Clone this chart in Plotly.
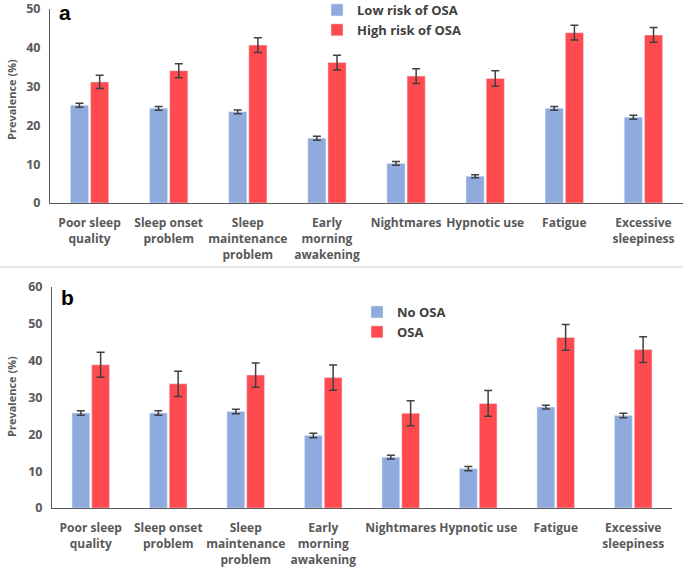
import plotly.graph_objects as go

categories = ["Poor sleep<br>quality", "Sleep onset<br>problem", "Sleep<br>maintenance<br>problem",
              "Early<br>morning<br>awakening", "Nightmares", "Hypnotic use", "Fatigue",
              "Excessive<br>sleepiness"]

# Panel a
low_risk = [25.2, 24.4, 23.5, 16.7, 10.2, 6.9, 24.4, 22.1]
low_risk_err = [0.5, 0.5, 0.5, 0.5, 0.5, 0.4, 0.5, 0.5]
high_risk = [31.2, 34.1, 40.7, 36.2, 32.7, 32.1, 43.9, 43.3]
high_risk_err = [1.7, 1.8, 1.9, 1.9, 1.9, 2.0, 1.9, 1.9]

# Panel b
no_osa = [25.8, 25.8, 26.2, 19.7, 13.8, 10.7, 27.4, 25.1]
no_osa_err = [0.6, 0.6, 0.6, 0.6, 0.5, 0.6, 0.5, 0.6]
osa = [38.9, 33.7, 36.1, 35.4, 25.7, 28.4, 46.3, 43.0]
osa_err = [3.4, 3.4, 3.3, 3.4, 3.4, 3.5, 3.5, 3.5]

BLUE = "#8FAADC"
RED = "#FF4A4F"
ERR = "#404040"
TXT = "#595959"
W, H = 685, 567
FONT = "Open Sans"

def px(x):
    return x / W

def py(y):
    return 1 - y / H

fig = go.Figure()

def err(arr):
    return dict(type="data", array=arr, visible=True, color=ERR, thickness=1.5, width=4)

fig.add_trace(go.Bar(x=categories, y=low_risk, name="Low risk of OSA", marker_color=BLUE,
                     error_y=err(low_risk_err), xaxis="x", yaxis="y", legend="legend"))
fig.add_trace(go.Bar(x=categories, y=high_risk, name="High risk of OSA", marker_color=RED,
                     error_y=err(high_risk_err), xaxis="x", yaxis="y", legend="legend"))
fig.add_trace(go.Bar(x=categories, y=no_osa, name="No OSA", marker_color=BLUE,
                     error_y=err(no_osa_err), xaxis="x2", yaxis="y2", legend="legend2"))
fig.add_trace(go.Bar(x=categories, y=osa, name="OSA", marker_color=RED,
                     error_y=err(osa_err), xaxis="x2", yaxis="y2", legend="legend2"))

tickfont = dict(family=FONT, size=12, color=TXT, weight="bold")
xcommon = dict(showline=True, linecolor="#595959", linewidth=1, ticks="", showgrid=False,
               tickfont=tickfont, tickangle=0, fixedrange=True, automargin=False,
               ticklabeloverflow="allow", ticklabelstandoff=9)
ycommon = dict(showline=True, linecolor="#595959", linewidth=1, ticks="", showgrid=False,
               zeroline=False, tickfont=dict(family=FONT, size=12.5, color=TXT, weight="bold"),
               dtick=10, ticklabelstandoff=6, automargin=False, ticklabeloverflow="allow",
               fixedrange=True)

fig.update_layout(
    width=W, height=H,
    margin=dict(l=0, r=0, t=0, b=0, autoexpand=False),
    paper_bgcolor="white", plot_bgcolor="white",
    barmode="group", bargap=0.49, bargroupgap=0.1,
    xaxis=dict(domain=[px(50), px(683)], anchor="y", **xcommon),
    yaxis=dict(domain=[py(203), py(9)], anchor="x", range=[0, 50], **ycommon),
    xaxis2=dict(domain=[px(52), px(672)], anchor="y2", **xcommon),
    yaxis2=dict(domain=[py(508), py(287)], anchor="x2", range=[0, 60], **ycommon),
    legend=dict(x=px(317), y=py(-5), xanchor="left", yanchor="top", bgcolor="rgba(0,0,0,0)",
                font=dict(family=FONT, size=13, color="#404040", weight="bold"),
                itemwidth=30, tracegroupgap=0),
    legend2=dict(x=px(357), y=py(297), xanchor="left", yanchor="top", bgcolor="rgba(0,0,0,0)",
                 font=dict(family=FONT, size=13, color="#404040", weight="bold"),
                 itemwidth=30, tracegroupgap=0),
    showlegend=True,
)

annotations = [
    dict(text="a", x=px(65), y=py(12), xref="paper", yref="paper", showarrow=False,
         xanchor="center", yanchor="middle",
         font=dict(family="Liberation Sans", size=21, color="black", weight="bold")),
    dict(text="b", x=px(67), y=py(297), xref="paper", yref="paper", showarrow=False,
         xanchor="center", yanchor="middle",
         font=dict(family="Liberation Sans", size=21, color="black", weight="bold")),
    dict(text="Prevalence (%)", x=px(11), y=py(100), xref="paper", yref="paper", showarrow=False,
         xanchor="center", yanchor="middle",
         textangle=-90, font=dict(family=FONT, size=11, color=TXT, weight="bold")),
    dict(text="Prevalence (%)", x=px(11), y=py(397), xref="paper", yref="paper", showarrow=False,
         xanchor="center", yanchor="middle",
         textangle=-90, font=dict(family=FONT, size=11, color=TXT, weight="bold")),
]
fig.update_layout(annotations=annotations)

fig.add_shape(type="line", xref="paper", yref="paper", x0=0, x1=px(683), y0=py(267), y1=py(267),
              line=dict(color="#E6E6E6", width=2))

fig.write_html("out.html", config={"displayModeBar": False},
               post_script="document.body.style.margin='0';document.body.style.overflow='hidden';")
